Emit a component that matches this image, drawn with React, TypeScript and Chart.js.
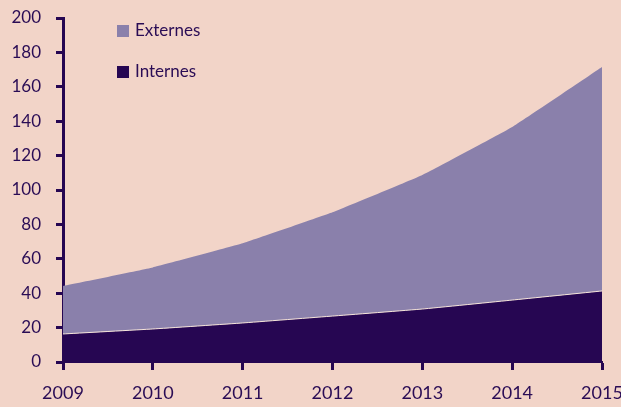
import React, { useEffect, useRef } from "react";
import { Chart, registerables } from "chart.js";

Chart.register(...registerables);

const years = ["2009", "2010", "2011", "2012", "2013", "2014", "2015"];
const internes = [16.3, 19.2, 22.7, 26.7, 30.8, 36, 41.3];
const externes = [27.9, 35.8, 46.3, 60.3, 77.9, 100.6, 130.2];
const yTicks = [0, 20, 40, 60, 80, 100, 120, 140, 160, 180, 200];

const BG = "#f2d4c8";
const DARK = "#260652";
const LAV = "#8a80ab";
const TEXT = "#2a0c55";
const FONT = "Lato";

const legendPlugin = {
  id: "customLegend",
  afterDraw(chart: any) {
    const ctx = chart.ctx;
    ctx.save();
    const items = [
      { label: "Externes", color: LAV, y: 31 },
      { label: "Internes", color: DARK, y: 72 },
    ];
    ctx.font = `17px ${FONT}`;
    ctx.textBaseline = "middle";
    ctx.textAlign = "left";
    for (const it of items) {
      ctx.fillStyle = it.color;
      ctx.fillRect(117, it.y - 6, 12, 12);
      ctx.fillStyle = TEXT;
      ctx.fillText(it.label, 135, it.y);
    }
    ctx.restore();
  },
};

export default function App() {
  const ref = useRef<HTMLCanvasElement>(null);
  useEffect(() => {
    document.body.style.margin = "0";
    const chart = new Chart(ref.current!, {
      type: "line",
      data: {
        labels: years,
        datasets: [
          {
            label: "Internes",
            data: internes,
            backgroundColor: DARK,
            borderColor: "#f6e6dc",
            borderWidth: 1,
            fill: "origin",
            pointRadius: 0,
            tension: 0.1,
          },
          {
            label: "Externes",
            data: externes,
            backgroundColor: LAV,
            borderColor: LAV,
            borderWidth: 0,
            fill: "-1",
            pointRadius: 0,
            tension: 0.1,
          },
        ],
      },
      options: {
        animation: false,
        responsive: false,
        maintainAspectRatio: false,
        layout: { padding: { top: 18, right: 19, left: 0, bottom: 0 } },
        plugins: { legend: { display: false }, tooltip: { enabled: false } },
        scales: {
          x: {
            offset: false,
            grid: {
              drawOnChartArea: false,
              drawTicks: true,
              tickLength: 8,
              tickWidth: 3,
              tickColor: DARK,
            },
            border: { display: true, color: DARK, width: 2 },
            ticks: {
              color: TEXT,
              font: { family: FONT, size: 18 },
              padding: 12,
              maxRotation: 0,
              autoSkip: false,
            },
            afterFit(scale: any) {
              scale.height = 45;
              scale.paddingLeft = 0;
              scale.paddingRight = 0;
            },
          },
          y: {
            stacked: true,
            min: 0,
            max: 200,
            afterBuildTicks(scale: any) {
              scale.ticks = yTicks.map((v) => ({ value: v }));
            },
            grid: {
              drawOnChartArea: false,
              drawTicks: true,
              tickLength: 7,
              tickWidth: 3,
              tickColor: DARK,
            },
            border: { display: true, color: DARK, width: 3 },
            ticks: {
              color: TEXT,
              font: { family: FONT, size: 17 },
              padding: 15,
            },
            afterFit(scale: any) {
              scale.width = 63;
              scale.paddingTop = 0;
              scale.paddingBottom = 0;
            },
          },
        },
      },
      plugins: [legendPlugin],
    });
    return () => chart.destroy();
  }, []);
  return (
    <div style={{ position: "absolute", left: 0, top: 0, width: 621, height: 407, background: BG }}>
      <canvas ref={ref} width={621} height={407} style={{ display: "block" }} />
    </div>
  );
}
